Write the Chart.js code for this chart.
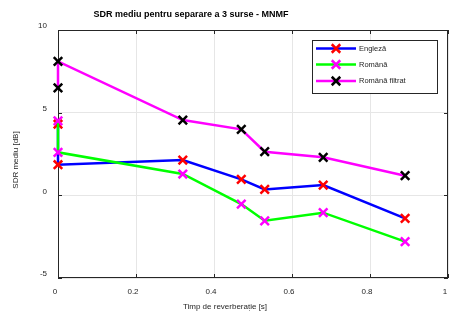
<!DOCTYPE html>
<html>
<head>
<meta charset="utf-8">
<script src="https://cdn.jsdelivr.net/npm/chart.js@4"></script>
<style>
  html, body { margin: 0; padding: 0; background: #fff; }
  #wrap { width: 450px; height: 320px; }
</style>
</head>
<body>
<div id="wrap"><canvas id="sdr-chart" width="450" height="320"></canvas></div>
<script>
// Chart data
const reverbTimes = [0, 0, 0.32, 0.47, 0.53, 0.68, 0.89];
const reverbTimesFiltered = [0, 0, 0.32, 0.47, 0.53, 0.68, 0.89];
const sdrEnglish = [4.3, 1.85, 2.13, 0.97, 0.36, 0.62, -1.39];
const sdrRomanian = [4.5, 2.6, 1.29, -0.53, -1.54, -1.05, -2.8];
const sdrRomanianFiltered = [6.5, 8.1, 4.55, 3.99, 2.64, 2.3, 1.19];
const seriesLabels = ['Engleză', 'Română', 'Română filtrat'];
const xTicks = [0, 0.2, 0.4, 0.6, 0.8, 1];
const yTicks = [-5, 0, 5, 10];

const chartTitle = 'SDR mediu pentru separare a 3 surse - MNMF';
const xAxisTitle = 'Timp de reverberație [s]';
const yAxisTitle = 'SDR mediu [dB]';

const FONT = '"Liberation Sans", Arial, sans-serif';
const AXIS_COLOR = '#262626';

/**
 * Zip x and y arrays into {x, y} points
 */
function toPoints(xs, ys) {
  return xs.map((x, i) => ({ x: x, y: ys[i] }));
}

/**
 * Build one line dataset with X markers
 */
function makeDataset(label, xs, ys, lineColor, markerColor, order) {
  return {
    label: label,
    data: toPoints(xs, ys),
    borderColor: lineColor,
    backgroundColor: lineColor,
    borderWidth: 2.5,
    pointStyle: 'crossRot',
    pointRadius: 6,
    pointBorderWidth: 2.5,
    pointBorderColor: markerColor,
    pointBackgroundColor: markerColor,
    showLine: true,
    tension: 0,
    clip: false,
    order: order,
  };
}

/**
 * Box, inward ticks and the free-standing texts (MATLAB look)
 */
const decorPlugin = {
  id: 'decor',
  beforeDatasetsDraw(chart) {
    const { ctx, chartArea: a, scales } = chart;
    ctx.save();

    // axes box
    ctx.strokeStyle = AXIS_COLOR;
    ctx.lineWidth = 1;
    ctx.strokeRect(a.left + 0.5, a.top + 0.5, a.right - a.left - 1, a.bottom - a.top - 1);

    // inward ticks
    ctx.beginPath();
    xTicks.forEach(t => {
      const px = Math.round(scales.x.getPixelForValue(t)) + 0.5;
      ctx.moveTo(px, a.bottom);
      ctx.lineTo(px, a.bottom - 4);
      ctx.moveTo(px, a.top);
      ctx.lineTo(px, a.top + 4);
    });
    yTicks.forEach(t => {
      const py = Math.round(scales.y.getPixelForValue(t)) + 0.5;
      ctx.moveTo(a.left, py);
      ctx.lineTo(a.left + 4, py);
      ctx.moveTo(a.right, py);
      ctx.lineTo(a.right - 4, py);
    });
    ctx.stroke();

    // title
    ctx.fillStyle = '#000';
    ctx.textAlign = 'center';
    ctx.textBaseline = 'middle';
    ctx.font = 'bold 9px ' + FONT;
    ctx.fillText(chartTitle, 191, 15);

    // axis titles
    ctx.fillStyle = AXIS_COLOR;
    ctx.font = '8px ' + FONT;
    ctx.fillText(xAxisTitle, 225, 307);
    ctx.translate(16, 160);
    ctx.rotate(-Math.PI / 2);
    ctx.fillText(yAxisTitle, 0, 0);
    ctx.restore();
  },
  afterDraw(chart) {
    // legend box in the upper right corner of the plot
    const { ctx } = chart;
    const box = { left: 312, top: 40, width: 125, height: 53 };
    const rows = [48.5, 64.5, 81];
    ctx.save();
    ctx.fillStyle = '#fff';
    ctx.fillRect(box.left, box.top, box.width, box.height);
    ctx.strokeStyle = AXIS_COLOR;
    ctx.lineWidth = 1;
    ctx.strokeRect(box.left + 0.5, box.top + 0.5, box.width, box.height);

    chart.data.datasets.forEach((ds, i) => {
      const y = rows[i];
      ctx.strokeStyle = ds.borderColor;
      ctx.lineWidth = 2.5;
      ctx.beginPath();
      ctx.moveTo(316, y);
      ctx.lineTo(356, y);
      ctx.stroke();
      ctx.strokeStyle = ds.pointBorderColor;
      ctx.lineWidth = 2.5;
      Chart.helpers.drawPoint(ctx, { pointStyle: 'crossRot', radius: 6, borderWidth: 2.5 }, 336, y);
      ctx.fillStyle = AXIS_COLOR;
      ctx.font = '7.5px ' + FONT;
      ctx.textAlign = 'left';
      ctx.textBaseline = 'middle';
      ctx.fillText(ds.label, 359, y);
    });
    ctx.restore();
  },
};

/**
 * Create the chart
 */
function createChart() {
  const ctx = document.getElementById('sdr-chart').getContext('2d');
  new Chart(ctx, {
    type: 'scatter',
    data: {
      datasets: [
        makeDataset(seriesLabels[0], reverbTimes, sdrEnglish, '#0000ff', '#ff0000', 3),
        makeDataset(seriesLabels[1], reverbTimes, sdrRomanian, '#00ff00', '#ff00ff', 2),
        makeDataset(seriesLabels[2], reverbTimesFiltered, sdrRomanianFiltered, '#ff00ff', '#000000', 1),
      ],
    },
    options: {
      responsive: false,
      animation: false,
      layout: { autoPadding: false, padding: { left: 0, right: 2, top: 30, bottom: 0 } },
      plugins: {
        legend: { display: false },
        title: { display: false },
        tooltip: { enabled: false },
      },
      scales: {
        x: {
          type: 'linear',
          min: 0,
          max: 1,
          afterBuildTicks: scale => {
            scale.ticks = xTicks.map(v => ({ value: v }));
          },
          afterFit: scale => {
            scale.height = 42;
            scale.paddingLeft = 0;
            scale.paddingRight = 0;
          },
          // invisible tick marks only push the labels down
          grid: { color: '#e6e6e6', drawTicks: true, tickLength: 9, tickColor: 'rgba(0,0,0,0)' },
          border: { display: false },
          ticks: {
            padding: 0,
            labelOffset: -3,
            color: AXIS_COLOR,
            font: { family: FONT, size: 8 },
            maxRotation: 0,
            callback: v => String(v),
          },
        },
        y: {
          min: -5,
          max: 10,
          afterBuildTicks: scale => {
            scale.ticks = yTicks.map(v => ({ value: v }));
          },
          afterFit: scale => {
            scale.width = 58;
            scale.paddingTop = 0;
            scale.paddingBottom = 0;
          },
          grid: { color: '#e6e6e6', drawTicks: false },
          border: { display: false },
          ticks: {
            padding: 11,
            labelOffset: -4,
            color: AXIS_COLOR,
            font: { family: FONT, size: 8 },
            callback: v => String(v),
          },
        },
      },
    },
    plugins: [decorPlugin],
  });
}

createChart();
</script>
</body>
</html>
